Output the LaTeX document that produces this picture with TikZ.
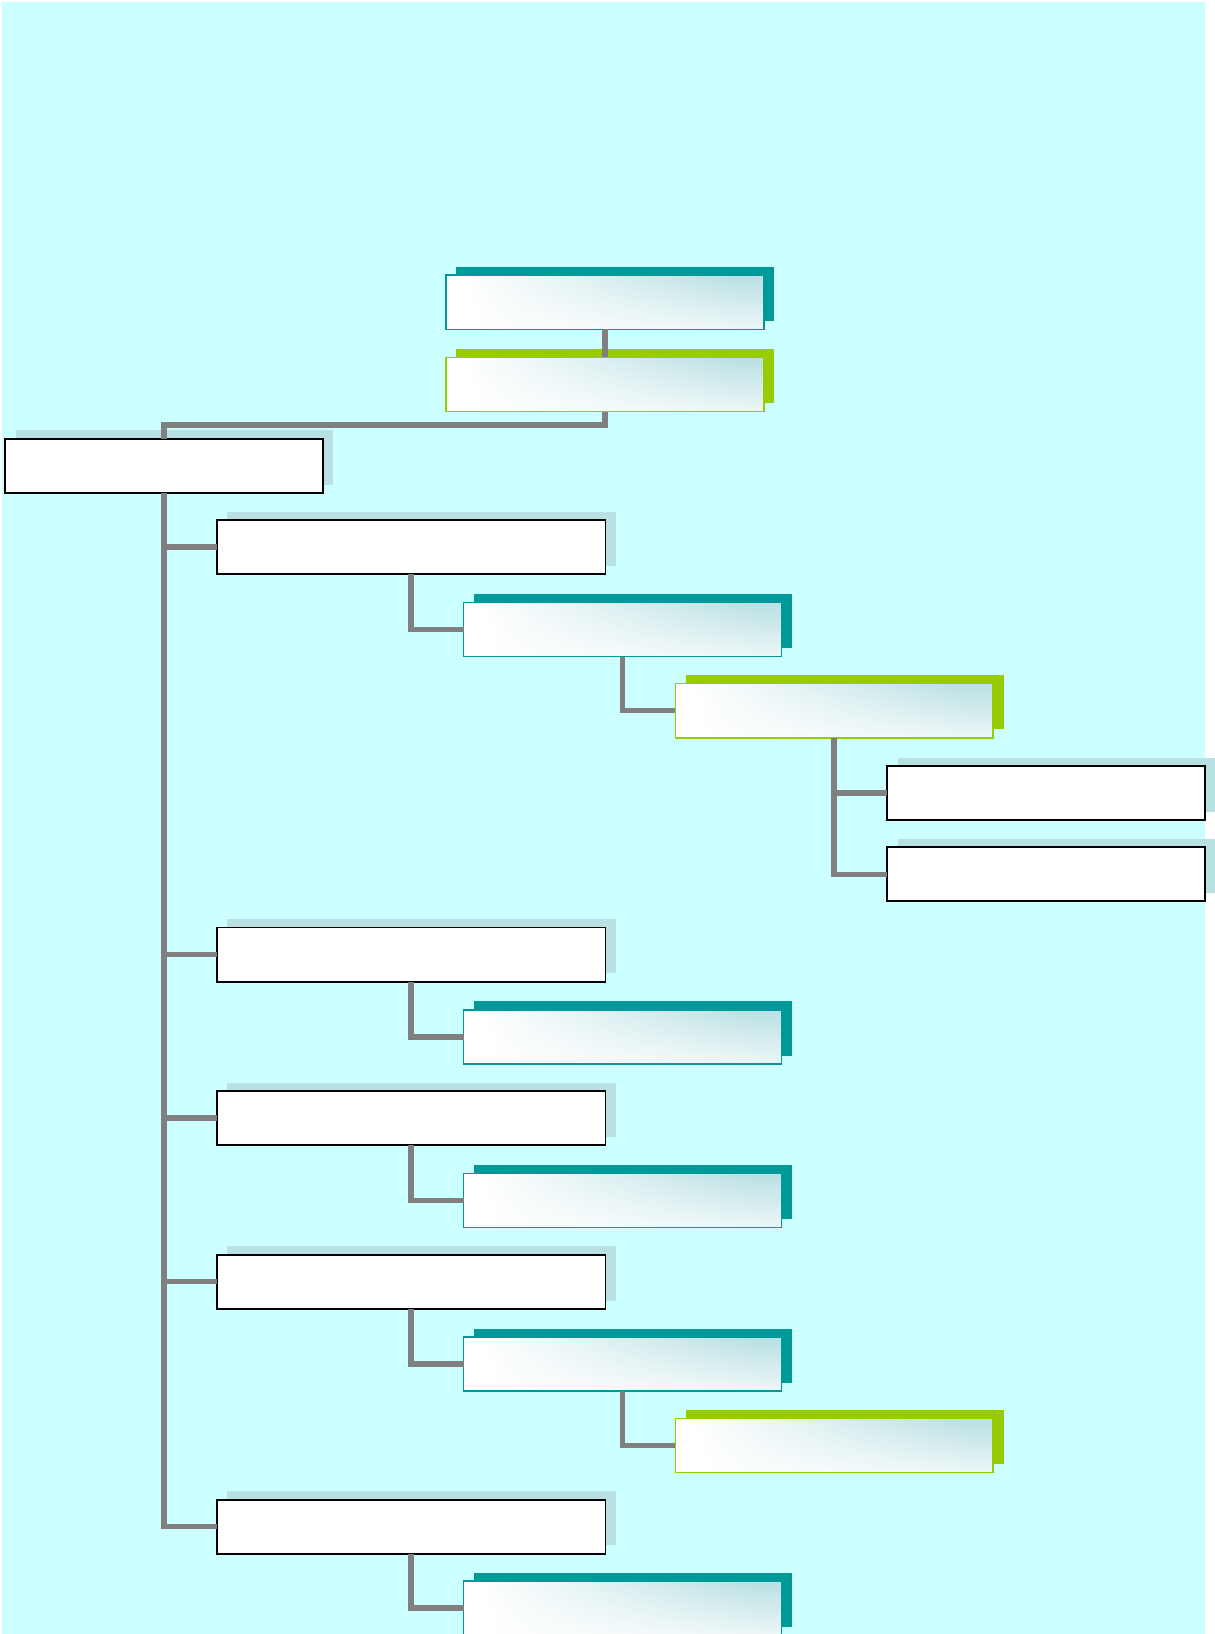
\documentclass[tikz,border=0pt]{standalone}
\usepackage{xcolor}
\usepackage{tikz}
\usetikzlibrary{positioning,shadows,fadings}
\definecolor{bgcyan}{HTML}{CCFFFF}
\definecolor{boxteal}{HTML}{009999}
\definecolor{boxgreen}{HTML}{99CC00}
\definecolor{shadowblue}{HTML}{B9E0E3}
\definecolor{linkgray}{HTML}{808080}

\begin{document}
\begin{tikzpicture}[
  x=0.5pt, y=-0.5pt,
  basebox/.style={
    rectangle, minimum width=152.5pt, minimum height=26pt,
    inner sep=0pt, outer sep=0pt,
  },
  plainbox/.style={
    basebox, draw=black, line width=0.9pt, fill=white,
    general shadow={shadow xshift=5pt, shadow yshift=4pt, fill=shadowblue, draw=none},
  },
  widebox/.style={plainbox, minimum width=186.5pt},
  gradbox/.style={
    basebox, line width=0.7pt,
    left color=white, right color=shadowblue, shading angle=105,
    postaction={fill=white, path fading=north, fill opacity=0.75},
    postaction={draw=#1, line width=0.7pt},
  },
  tealbox/.style={
    gradbox=boxteal,
    general shadow={shadow xshift=5pt, shadow yshift=4pt, fill=boxteal, draw=none},
  },
  greenbox/.style={
    gradbox=boxgreen,
    general shadow={shadow xshift=5pt, shadow yshift=4pt, fill=boxgreen, draw=none},
  },
  link/.style={draw=linkgray, line width=2.6pt},
]

\useasboundingbox (0,0) rectangle (1165,1568);
\fill[bgcyan] (2,2) rectangle (1156,1568);

% top of the chart
\node[tealbox] (top1) at (580.5,290) {};
\node[greenbox, below=13.5pt of top1] (top2) {};
\node[plainbox] (root) at (157.5,447) {};

% first level
\node[widebox] (l1a) at (394.5,525) {};
\node[widebox] (l1b) at (394.5,916) {};
\node[widebox] (l1c) at (394.5,1073) {};
\node[widebox] (l1d) at (394.5,1230) {};
\node[widebox] (l1e) at (394.5,1465) {};

% second level
\node[tealbox] (l2a) at (597.5,604) {};
\node[tealbox] (l2b) at (597.5,995) {};
\node[tealbox] (l2c) at (597.5,1152) {};
\node[tealbox] (l2d) at (597.5,1309) {};
\node[tealbox] (l2e) at (597.5,1543) {};

% third and fourth level
\node[greenbox] (l3a) at (800.5,682) {};
\node[greenbox] (l3d) at (800.5,1387) {};
\node[plainbox] (l4a) at (1004,761) {};
\node[plainbox, below=13pt of l4a] (l4b) {};

% connectors
\draw[link] (top1.south) -- (top2.north);
\draw[link] (top2.south) -- ++(0,13) -| (root.north);
\foreach \n in {l1a,l1b,l1c,l1d,l1e}
  \draw[link] (root.south) |- (\n.west);
\foreach \p/\c in {l1a/l2a,l1b/l2b,l1c/l2c,l1d/l2d,l1e/l2e,l2a/l3a,l2d/l3d,l3a/l4a,l3a/l4b}
  \draw[link] (\p.south) |- (\c.west);

\end{tikzpicture}
\end{document}
